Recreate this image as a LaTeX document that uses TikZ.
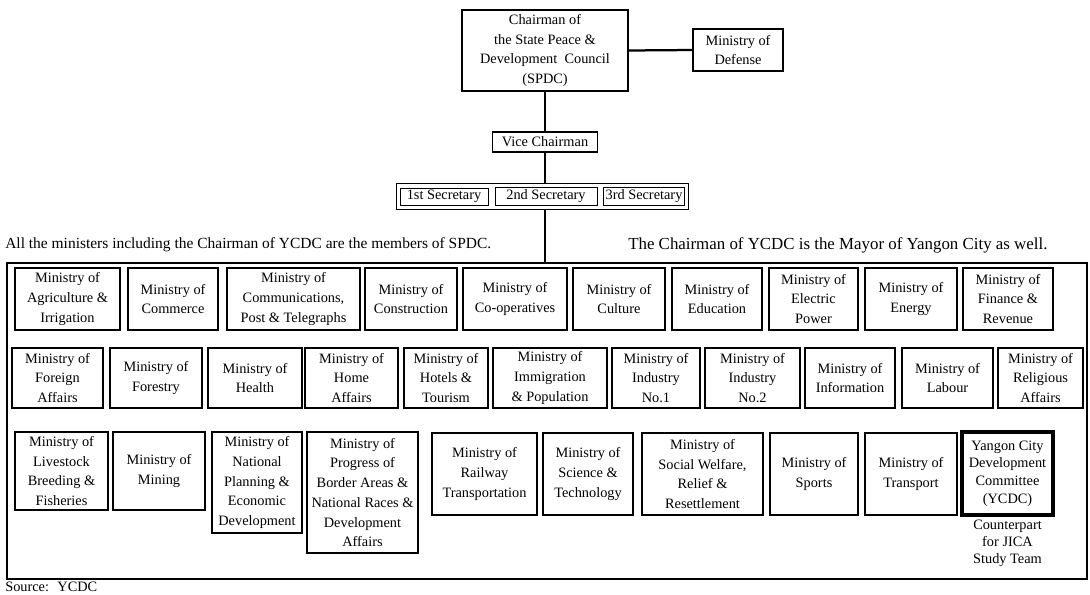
\documentclass[tikz,border=0pt]{standalone}
\usepackage{fontspec}
\setmainfont{Liberation Serif}
\usetikzlibrary{positioning,fit}

\tikzset{
  txt/.style={font=\fontsize{10.2}{14}\selectfont},
  box/.style={draw, line width=0.8pt, align=center, inner sep=1pt, txt},
  sz/.style 2 args={minimum width=#1*0.025cm, minimum height=#2*0.025cm},
  link/.style={line width=1.6pt},
  note/.style={font=\fontsize{11}{14}\selectfont, inner sep=0pt},
}

\begin{document}
\begin{tikzpicture}[x=0.025cm, y=-0.025cm]
		\useasboundingbox (0,0) rectangle (1090,594);

		% Top of the chart
		\node[box, line width=1.2pt, sz={166}{81}] (chair) at (545,50.5) {Chairman of\\the State Peace \&\\Development~ Council\\(SPDC)};
		\node[box, sz={90}{42}] (defense) at (738,50) {Ministry of\\Defense};
		\node[box, sz={105}{20}] (vice) at (545,142) {Vice Chairman};

		% Secretaries
		\node[box, line width=0.6pt, inner sep=1.5pt, sz={88}{17}] (sec1) at (444,196.5) {1st Secretary};
		\node[box, line width=0.6pt, inner sep=1.5pt, sz={102}{17}] (sec2) at (546,196.5) {2nd Secretary};
		\node[box, line width=0.6pt, inner sep=1.5pt, sz={80}{17}] (sec3) at (644,196.5) {3rd Secretary};
		\node[draw, line width=0.8pt, fit=(sec1)(sec3), inner sep=2.5pt] (secs) {};

		% Notes above the ministers
		\node[note, anchor=west] (allnote) at (5,245) {All the ministers including the Chairman of YCDC are the members of SPDC.};
		\node[note, anchor=west, font=\fontsize{12}{14}\selectfont] (mayor) at (628,245) {The Chairman of YCDC is the Mayor of Yangon City as well.};

		% Frame of all the ministries
		\node[draw, line width=1.1pt, sz={1080}{316}] (members) at (547,421) {};

		% First row
		\node[box, sz={105}{62}] (agri) at (67.5,299) {Ministry of\\Agriculture \&\\Irrigation};
		\node[box, sz={90}{62}] (commerce) at (173,299) {Ministry of\\Commerce};
		\node[box, sz={133}{62}] (commun) at (293.5,299) {Ministry of\\Communications,\\Post \& Telegraphs};
		\node[box, sz={92}{62}] (constr) at (411,299) {Ministry of\\Construction};
		\node[box, sz={104}{62}] (coop) at (515,299) {Ministry of\\Co-operatives};
		\node[box, sz={92}{62}] (culture) at (619,299) {Ministry of\\Culture};
		\node[box, sz={90}{62}] (educ) at (717,299) {Ministry of\\Education};
		\node[box, sz={89}{62}] (electric) at (813.5,299) {Ministry of\\Electric\\Power};
		\node[box, sz={92}{62}] (energy) at (911,299) {Ministry of\\Energy};
		\node[box, sz={90}{62}] (finance) at (1008,299) {Ministry of\\Finance \&\\Revenue};

		% Second row
		\node[box, sz={91}{60}] (foreign) at (57.5,378) {Ministry of\\Foreign\\Affairs};
		\node[box, sz={92}{60}] (forestry) at (156,378) {Ministry of\\Forestry};
		\node[box, sz={94}{60}] (health) at (255,378) {Ministry of\\Health};
		\node[box, sz={93}{60}] (home) at (351.5,378) {Ministry of\\Home\\Affairs};
		\node[box, sz={84}{60}] (hotels) at (446,378) {Ministry of\\Hotels \&\\Tourism};
		\node[box, sz={114}{60}] (immig) at (550,378) {Ministry of\\Immigration\\\& Population};
		\node[box, sz={88}{60}] (indone) at (656,378) {Ministry of\\Industry\\No.1};
		\node[box, sz={95}{60}] (indtwo) at (752.5,378) {Ministry of\\Industry\\No.2};
		\node[box, sz={90}{60}] (inform) at (850,378) {Ministry of\\Information};
		\node[box, sz={91}{60}] (labour) at (947.5,378) {Ministry of\\Labour};
		\node[box, sz={85}{60}] (relig) at (1040.5,378) {Ministry of\\Religious\\Affairs};

		% Third row
		\node[box, sz={93}{78}] (livestock) at (61.5,471) {Ministry of\\Livestock\\Breeding \&\\Fisheries};
		\node[box, sz={92}{78}] (mining) at (159,471) {Ministry of\\Mining};
		\node[box, sz={90}{101}] (planning) at (257,482.5) {Ministry of\\National\\Planning \&\\Economic\\Development};
		\node[box, sz={111}{121}] (border) at (362.5,492.5) {Ministry of\\Progress of\\Border Areas \&\\National Races \&\\Development\\Affairs};
		\node[box, sz={105}{82}] (railway) at (484.5,474) {Ministry of\\Railway\\Transportation};
		\node[box, sz={90}{82}] (science) at (588,474) {Ministry of\\Science \&\\Technology};
		\node[box, sz={121}{82}] (social) at (702.5,474) {Ministry of\\Social Welfare,\\Relief \&\\Resettlement};
		\node[box, sz={88}{82}] (sports) at (814,474) {Ministry of\\Sports};
		\node[box, sz={92}{82}] (transport) at (911,474) {Ministry of\\Transport};
		\node[box, line width=2.4pt, sz={91}{83}, font=\fontsize{10.2}{12.6}\selectfont] (ycdc) at (1007.5,473.5) {Yangon City\\Development\\Committee\\(YCDC)};
		\node[note, align=center, below=2pt of ycdc, font=\fontsize{10.2}{12.2}\selectfont] (jica) {Counterpart\\for JICA\\Study Team};

		\node[note, anchor=west, font=\fontsize{10.2}{14}\selectfont] (source) at (5,587) {Source:~ YCDC};

		% Connectors
		\draw[link] (chair.east) -- (defense.west);
		\draw[link] (chair.south) -- (vice.north);
		\draw[link] (vice.south) -- (vice.south |- secs.north);
		\draw[link] (vice.south |- secs.south) -- (vice.south |- members.north);
	\end{tikzpicture}
\end{document}
